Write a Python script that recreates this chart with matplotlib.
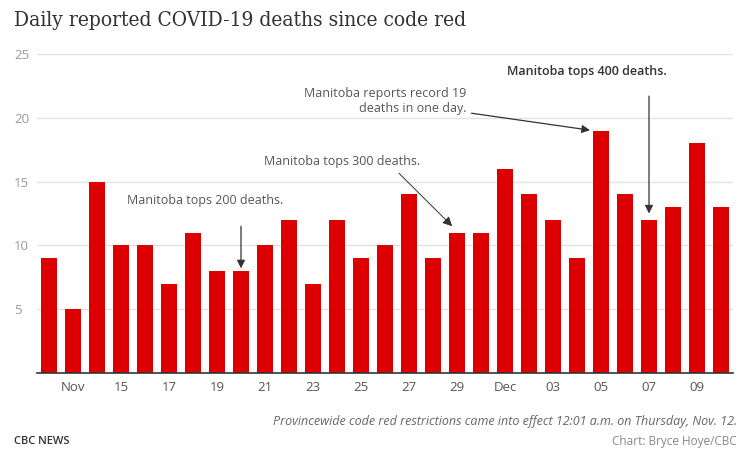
import matplotlib
matplotlib.use("Agg")
import matplotlib.pyplot as plt

plt.rcParams["font.family"] = ["Open Sans", "DejaVu Sans"]

# 每日死亡人数（11月12日 - 12月10日）
days = list(range(12, 31)) + list(range(1, 11))
deaths = [9, 5, 15, 10, 10, 7, 11, 8, 8, 10, 12, 7, 12, 9, 10, 14, 9, 11, 11,
          16, 14, 12, 9, 19, 14, 12, 13, 18, 13]
tick_labels = ["Nov", "15", "17", "19", "21", "23", "25", "27", "29",
               "Dec", "03", "05", "07", "09"]
y_ticks = [5, 10, 15, 20, 25]

RED = "#dd0000"
GREY = "#555555"

fig = plt.figure(figsize=(7.49, 4.59), dpi=100)
ax = fig.add_axes([37 / 749, 1 - 373 / 459, 696 / 749, 319 / 459])

x = list(range(len(deaths)))
ax.bar(x, deaths, width=0.667, color=RED, zorder=2)

ax.set_xlim(-0.5, len(deaths) - 0.5)
ax.set_ylim(0, 25)
ax.set_yticks(y_ticks)
ax.set_yticklabels([str(v) for v in y_ticks])
ax.yaxis.grid(True, color="#e3e3e3", lw=1, zorder=0)
ax.tick_params(axis="y", length=0, pad=16.5, labelsize=9.5, labelcolor="#9a9a9a")
for lab in ax.get_yticklabels():
    lab.set_horizontalalignment("left")

ax.set_xticks(x[1::2])
ax.set_xticklabels(tick_labels)
ax.tick_params(axis="x", length=0, pad=6, labelsize=9.5, labelcolor="#555555")

for s in ["top", "right", "left"]:
    ax.spines[s].set_visible(False)
ax.spines["bottom"].set_color("#333333")
ax.spines["bottom"].set_linewidth(1.2)
ax.spines["bottom"].set_zorder(3)

# 注释
arrow = dict(arrowstyle="-|>", color="#333333", lw=0.9, mutation_scale=12,
             shrinkA=0, shrinkB=0)
ax.text(6.5, 13.5, "Manitoba tops 200 deaths.", ha="center", va="center",
        fontsize=9, color=GREY)
ax.annotate("", xy=(8, 8.2), xytext=(8, 11.5), arrowprops=arrow)

ax.text(8.96, 16.6, "Manitoba tops 300 deaths.", ha="left", va="center",
        fontsize=9, color=GREY)
ax.annotate("", xy=(16.8, 11.5), xytext=(14.58, 15.66),
            arrowprops=dict(arrow, lw=0.7, mutation_scale=14))

ax.text(17.4, 21.3, "Manitoba reports record 19\ndeaths in one day.",
        ha="right", va="center", fontsize=9, color=GREY, linespacing=1.15,
        multialignment="right")
ax.annotate("", xy=(22.54, 19.03), xytext=(17.6, 20.36), arrowprops=arrow)

ax.text(19.1, 23.65, "Manitoba tops 400 deaths.", ha="left", va="center",
        fontsize=9, color="#333333", fontweight="semibold")
ax.annotate("", xy=(25.0, 12.5), xytext=(25.0, 21.7), arrowprops=arrow)

# 标题与页脚
fig.text(14 / 749, 1 - 21 / 459, "Daily reported COVID-19 deaths since code red",
         ha="left", va="center", fontsize=15, color="#333333",
         family=["DejaVu Serif"], fontstretch="condensed")
fig.text(737 / 749, 1 - 421 / 459,
         "Provincewide code red restrictions came into effect 12:01 a.m. on Thursday, Nov. 12.",
         ha="right", va="center", fontsize=9, style="italic", color="#666666")
fig.text(14 / 749, 1 - 441 / 459, "CBC NEWS", ha="left", va="center",
         fontsize=8, fontweight="semibold", color="#333333")
fig.text(737 / 749, 1 - 441 / 459, "Chart: Bryce Hoye/CBC", ha="right",
         va="center", fontsize=8.5, color="#888888")

fig.savefig("out.png", dpi=100)
